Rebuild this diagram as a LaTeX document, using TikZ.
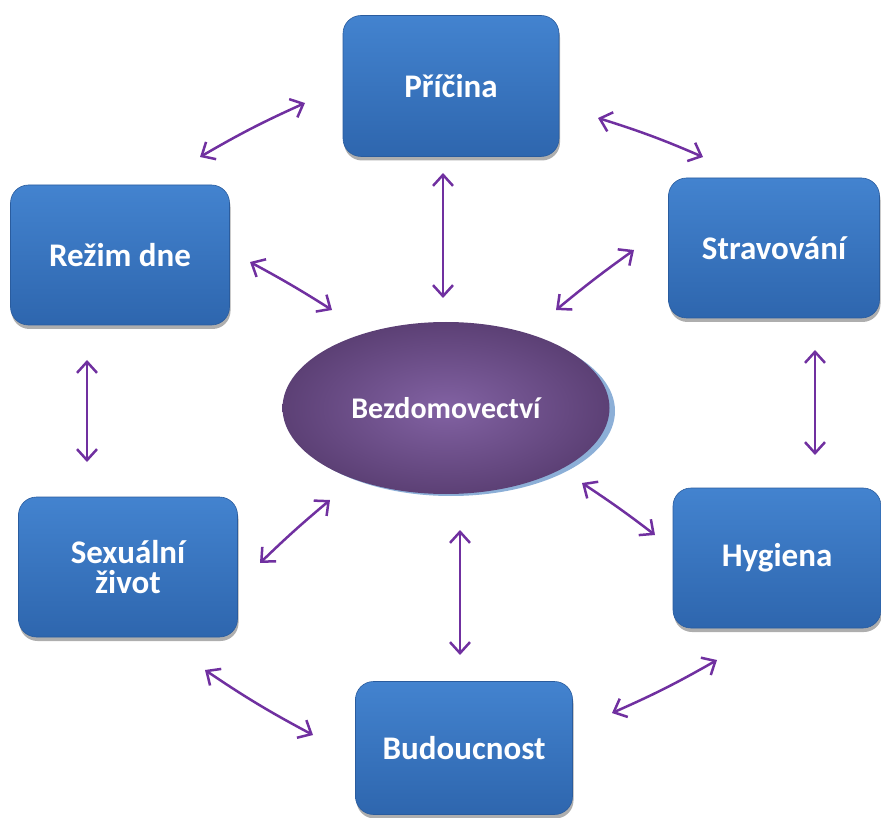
\documentclass[tikz,border=0pt]{standalone}
\usepackage{fontspec}
\setmainfont{Carlito}
\usetikzlibrary{arrows.meta,shadows,shapes.geometric}
\definecolor{boxtop}{HTML}{4383CF}
\definecolor{boxbot}{HTML}{2E66AE}
\definecolor{boxedge}{HTML}{2A5C9E}
\definecolor{elin}{HTML}{8262A3}
\definecolor{elout}{HTML}{5C4075}
\definecolor{arr}{HTML}{7030A0}
\begin{document}
\begin{tikzpicture}[x=1pt,y=-1pt,
  boxnode/.style={rounded corners=18pt, top color=boxtop, bottom color=boxbot, draw=boxedge, line width=0.6pt,
    text=white, font=\bfseries\fontsize{33}{34}\selectfont, align=center, inner sep=0pt,
    drop shadow={shadow xshift=1pt, shadow yshift=-4pt, opacity=0.45, fill=black!70}},
  link/.style={draw=arr, line width=2.5pt, {Straight Barb[length=11pt,width=20pt,line width=2.5pt]}-{Straight Barb[length=11pt,width=20pt,line width=2.5pt]}}
]
\useasboundingbox (0,0) rectangle (881,818);
% boxes
\node[boxnode, minimum width=216pt, minimum height=141pt] (pricina) at (451,86) {Příčina};
\node[boxnode, minimum width=219pt, minimum height=140pt] (rezim) at (120,255) {Režim dne};
\node[boxnode, minimum width=211pt, minimum height=140pt] (strav) at (774,248) {Stravování};
\node[boxnode, minimum width=219pt, minimum height=140pt] (sex) at (128,567) {Sexuální\\[-4pt] život};
\node[boxnode, minimum width=208pt, minimum height=140pt] (hyg) at (777,558) {Hygiena};
\node[boxnode, minimum width=217pt, minimum height=133pt] (bud) at (464,748) {Budoucnost};
% ellipse
\fill[color={rgb,255:red,140;green,175;blue,215}] (451,411) ellipse [x radius=164pt, y radius=85pt];
\node[ellipse, minimum width=327pt, minimum height=172pt, inner color=elin, outer color=elout, text=white,
  font=\bfseries\fontsize{30}{32}\selectfont] (center) at (446,408) {Bezdomovectví};
% arrow end coordinates
\coordinate (a1) at (305,103); \coordinate (b1) at (200,157);
\coordinate (a2) at (598,118); \coordinate (b2) at (703,157);
\coordinate (a3) at (443,173); \coordinate (b3) at (443,298);
\coordinate (a4) at (250,262); \coordinate (b4) at (332,310);
\coordinate (a5) at (634,250); \coordinate (b5) at (556,310);
\coordinate (a6) at (87,360);  \coordinate (b6) at (87,462);
\coordinate (a7) at (815,350); \coordinate (b7) at (815,455);
\coordinate (a8) at (330,500); \coordinate (b8) at (260,563);
\coordinate (a9) at (582,483); \coordinate (b9) at (655,535);
\coordinate (a10) at (460,530); \coordinate (b10) at (460,655);
\coordinate (a11) at (205,670); \coordinate (b11) at (313,735);
\coordinate (a12) at (717,660); \coordinate (b12) at (612,713);
\path[link] (a1) to[bend right=3] (b1);
\path[link] (a2) to[bend left=3] (b2);
\path[link] (a3) -- (b3);
\path[link] (a4) to[bend left=2] (b4);
\path[link] (a5) to[bend right=2] (b5);
\path[link] (a6) -- (b6);
\path[link] (a7) -- (b7);
\path[link] (a8) to[bend right=2] (b8);
\path[link] (a9) to[bend left=2] (b9);
\path[link] (a10) -- (b10);
\path[link] (a11) to[bend right=3] (b11);
\path[link] (a12) to[bend left=3] (b12);
\end{tikzpicture}
\end{document}
